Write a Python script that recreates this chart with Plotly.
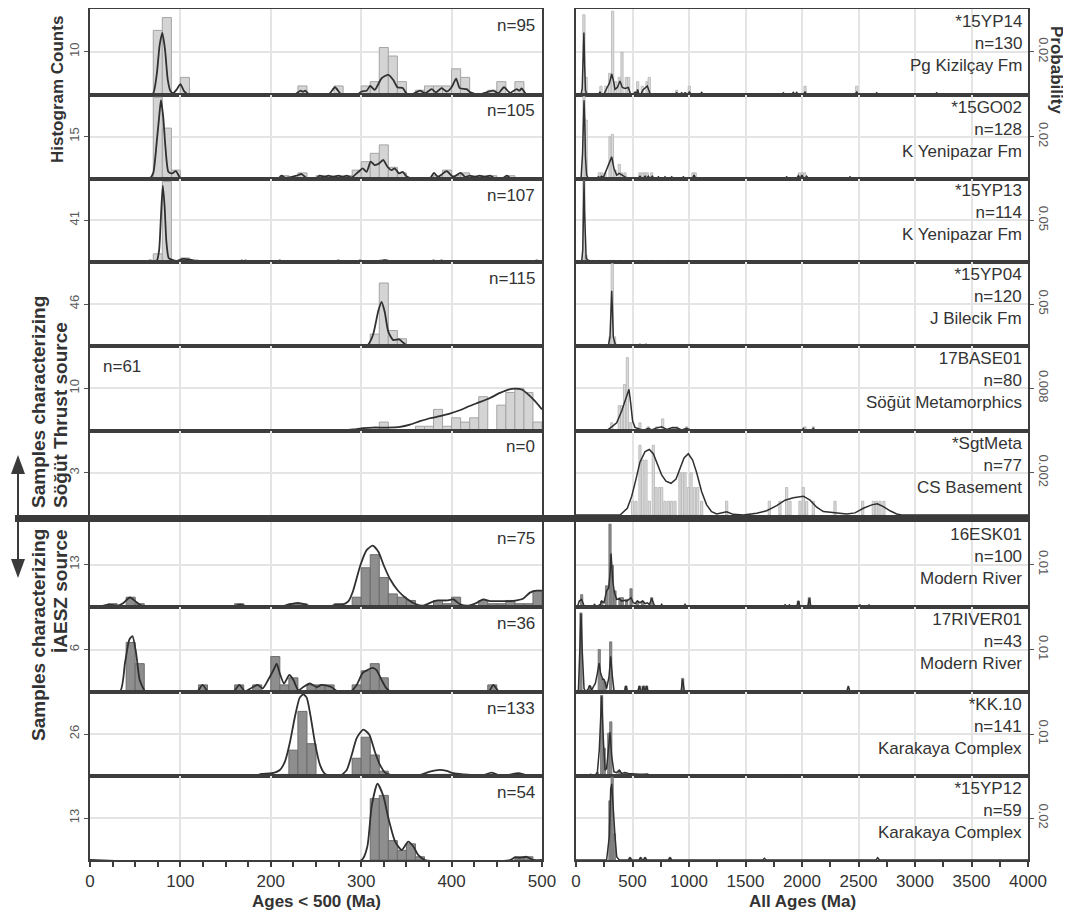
import plotly.graph_objects as go

# ------------------------------------------------------------------ data
L_tick = [10, 15, 41, 46, 10, 3, 13, 6, 26, 13]
R_tick = [0.02, 0.02, 0.05, 0.05, 0.008, 0.002, 0.01, 0.01, 0.01, 0.02]
L_n = ["n=95", "n=105", "n=107", "n=115", "n=61", "n=0", "n=75", "n=36", "n=133", "n=54"]
R_name = ["*15YP14", "*15GO02", "*15YP13", "*15YP04", "17BASE01", "*SgtMeta",
          "16ESK01", "17RIVER01", "*KK.10", "*15YP12"]
R_n = ["n=130", "n=128", "n=114", "n=120", "n=80", "n=77", "n=100", "n=43", "n=141", "n=59"]
R_unit = ["Pg Kizilçay Fm", "K Yenipazar Fm", "K Yenipazar Fm", "J Bilecik Fm",
          "Söğüt Metamorphics", "CS Basement", "Modern River", "Modern River",
          "Karakaya Complex", "Karakaya Complex"]

# left panels: histogram (10 Ma bins, lower edge) and KDE
L1_bin = [70, 80, 100, 230, 270, 300, 310, 320, 330, 340, 360, 370, 380, 390, 400, 410, 440, 450, 470]
L1_cnt = [15, 18, 4, 2, 2, 2, 3, 11, 9, 3, 1, 2, 2, 2, 6, 4, 1, 3, 3]
L1_kx = [0, 66, 70, 74, 77, 80, 83, 86, 89, 92, 96, 100, 104, 109, 226, 233, 235.5, 238, 243, 264, 271, 278,
         296, 300.5, 306, 310, 315, 322.6, 330, 335.5, 340, 346, 350, 356, 365, 370.6, 378, 382.7, 389, 394.6,
         400, 405, 409, 416.6, 421, 430, 446, 451.7, 458, 464.6, 472, 475, 477.5, 483, 500]
L1_ky = [0, 0, 0.3, 5, 11.5, 14.4, 10.5, 3.5, 0.8, 0.3, 1.2, 2.4, 0.8, 0, 0, 0.9, 0.6, 0.9, 0, 0, 1.7, 0,
         0, 0.7, 0.9, 2.0, 1.1, 3.8, 4.6, 3.4, 1.7, 1.5, 0.3, 0, 0.9, 0.3, 1.25, 0.5, 1.5, 0.7,
         1.7, 3.7, 1.5, 1.25, 0.5, 0, 0.9, 0.3, 1.7, 0.4, 1.25, 0.9, 1.4, 0, 0]

L2_bin = [70, 80, 90, 210, 230, 250, 260, 270, 280, 290, 300, 310, 320, 330, 340, 380, 390, 400, 410, 420, 430, 440, 460]
L2_cnt = [29, 18, 3, 1, 2, 1, 1, 1, 1, 3, 6, 9, 12, 4, 2, 1, 3, 1, 2, 1, 1, 1, 1]
L2_kx = [0, 66, 70, 74, 76.5, 78.5, 81, 83.5, 86.7, 90.3, 95, 99.6, 103, 208, 212, 216, 228.6, 234, 240, 250,
         254, 260, 263.6, 269, 274.7, 280, 284, 289.5, 297, 301.6, 306, 310.5, 315, 320, 324.5, 329, 333.7,
         337, 342, 346, 350, 356, 376, 380.5, 385, 394.5, 401.8, 410, 414.8, 420, 426, 431, 437, 442.5, 448,
         456, 461, 466, 500]
L2_ky = [0, 0, 2, 13.7, 22, 28, 22, 11, 2.4, 1.8, 2.6, 0.3, 0, 0, 1, 0.2, 1, 1.6, 0, 0,
         1, 0.6, 1, 0.6, 1, 0.6, 1, 0.4, 2.4, 3.6, 2.4, 6, 4.8, 5.4, 6.6, 4.2, 3,
         3.6, 1.8, 2.4, 0.8, 0, 0, 2, 0.6, 2.6, 0.6, 2, 0.6, 1, 0.6, 1, 0.6, 1, 0,
         0, 1, 0, 0]

L3_bin = [70, 80, 90, 100, 110, 170, 210, 270, 300, 320, 380, 390, 490]
L3_cnt = [8, 79, 1, 4, 2, 1, 1, 1, 1, 2, 1, 1, 1]
L3_kx = [0, 62, 66.4, 70, 74, 76.5, 78.5, 80.5, 82.5, 84.5, 87, 90.3, 96, 103, 110.6, 116, 122, 164, 168, 170,
         172, 176, 206, 210, 214, 270, 274.7, 279, 294, 298.7, 303, 318, 324.5, 328, 333, 376, 380, 384.5,
         389, 393, 490, 494, 498, 500]
L3_ky = [0, 0, 1.6, 0.8, 1.5, 12, 45, 75, 55, 20, 4, 2.3, 1, 3, 2.3, 1, 0, 0, 1.6, 0.6,
         1.6, 0, 0, 1.6, 0, 0, 1.6, 0, 0, 1.6, 0, 0, 1.6, 1.6, 0, 0, 1.6, 0.3,
         1.6, 0, 0, 1.6, 0, 0]

L4_bin = [310, 320, 330, 340]
L4_cnt = [13, 69, 17, 8]
L4_kx = [0, 306, 313, 319, 322.6, 326, 330, 335.5, 342, 346.6, 352, 500]
L4_ky = [0, 0, 12, 39, 48.4, 37.5, 15.6, 6.5, 7.3, 3.6, 0, 0]

L5_bin = [320, 360, 370, 380, 390, 400, 410, 420, 430, 450, 460, 470, 480, 490]
L5_cnt = [2, 1, 1, 5, 1, 3, 2, 3, 8, 6, 9, 10, 9, 2]
L5_kx = [0, 276, 291, 302, 313, 328, 343, 354, 365, 376, 387, 398, 409, 420, 431, 442.5, 453.5, 462.8,
         470, 477.5, 485, 492, 500]
L5_ky = [0, 0, 0.24, 0.55, 0.7, 0.7, 0.87, 1.4, 2.2, 2.9, 3.4, 4, 4.8, 5.8, 6.7, 7.7, 8.9, 9.7,
         9.9, 9.7, 8.5, 7, 5]

L6_bin = []
L6_cnt = []
L6_kx = []
L6_ky = []

L7_bin = [20, 40, 50, 160, 220, 230, 270, 290, 300, 310, 320, 330, 340, 350, 380, 390, 400, 430, 440, 450, 460, 470, 480, 490]
L7_cnt = [1, 3, 1, 1, 1, 1, 1, 3, 12, 16, 9, 4, 3, 2, 2, 1, 3, 2, 1, 1, 2, 1, 1, 5]
L7_kx = [0, 11, 20, 26, 31, 37, 44, 50, 57, 66, 155, 166, 177, 210, 219, 230, 240, 247, 262, 273, 280, 286,
         291, 299, 306, 312.7, 319, 325, 332, 341, 350, 359.5, 368.7, 378, 385, 394.5, 402, 409, 418.5,
         427.7, 435, 442.5, 453.5, 464.6, 472, 479, 486.7, 494, 500]
L7_ky = [0, 0.2, 0.7, 0.6, 0.4, 1.25, 2.9, 1.8, 0.4, 0, 0, 0.7, 0, 0, 0.7, 1.25, 0.6, 0, 0, 0.7, 0.8, 1.8,
         4.9, 12.7, 17.4, 18.75, 16.9, 12.7, 8.5, 4.9, 2.6, 1, 0.4, 1.5, 2, 2, 2.3, 0.9, 0.4,
         1.25, 2.3, 1.8, 1.8, 1.8, 2, 2.5, 4.4, 5, 5]

L8_bin = [40, 50, 120, 160, 180, 200, 210, 220, 240, 250, 260, 290, 300, 310, 320, 440]
L8_cnt = [7, 4, 1, 1, 1, 5, 1, 2, 1, 1, 1, 1, 3, 4, 2, 1]
L8_kx = [0, 33, 38.7, 43.5, 47, 51, 55, 61, 64.5, 118, 124.6, 131, 158.5, 165, 171.5, 179, 185.5, 191, 197,
         203, 206.5, 210, 214.6, 220.5, 225, 230.5, 236, 243, 250.7, 256, 262, 267, 274.7, 287.6, 295,
         301.6, 306.8, 312.7, 317, 322.6, 328, 333.7, 440.6, 446, 453, 500]
L8_ky = [0, 0, 4.1, 7.4, 7.9, 5.5, 1.7, 0.1, 0, 0, 1, 0, 0, 1, 0.1, 0.6, 1, 0.5, 1.7,
         3.1, 4, 2.6, 1.2, 2.4, 1.7, 0.24, 0.7, 1.2, 0.7, 1, 0.9, 0.7, 0, 0, 1,
         2.7, 3.1, 3.4, 3.1, 1.7, 0.5, 0, 0, 1, 0, 0]

L9_bin = [190, 210, 220, 230, 240, 290, 300, 310, 320, 380, 390, 470]
L9_cnt = [1, 1, 16, 40, 20, 11, 24, 13, 3, 1, 1, 1]
L9_kx = [0, 118, 131, 144, 180.7, 190, 201, 210, 215.7, 221, 226.8, 232, 236, 239.7, 244, 248.9, 254.4, 260,
         265.5, 276.5, 284, 289.5, 295, 302.4, 309, 315, 320.8, 326.4, 333.7, 346.6, 354, 365, 376, 387,
         394.6, 402, 413, 424, 435, 444, 451.7, 462.8, 473.7, 483, 494, 500]
L9_ky = [0, 0, 0.6, 0, 0, 1.25, 1.7, 3.75, 9, 20.4, 37, 48.5, 50.6, 48.5, 37, 20.4, 6.9, 1.25,
         0, 0, 3.75, 13, 23.5, 28.75, 25.6, 15.2, 6.9, 2.1, 0.6, 0.6, 0.2, 0.6, 2.7, 3.75,
         3.1, 1.7, 1, 0.6, 0.4, 2.1, 0.6, 0.6, 1.7, 0.6, 0, 0]

L10_bin = [310, 320, 330, 340, 350, 360, 470, 480]
L10_cnt = [19, 20, 6, 3, 5, 1, 1, 1]
L10_kx = [0, 300.5, 306.8, 311.6, 318, 324.5, 330, 337.5, 344.8, 352, 357.7, 363, 370.6, 464.6, 470, 475.7,
          483, 490.4, 500]
L10_ky = [0, 0, 4.2, 16.7, 23.6, 19.8, 13, 5.7, 3.1, 5.7, 4.2, 1.6, 0, 0, 0.8, 0.7, 1, 0, 0]

# right panels: histogram (age, probability), probability curve and isolated small peaks
R1_bar_age = [70, 90, 221, 265, 298, 324, 351, 383, 407, 445, 466, 546, 587, 628, 648, 891, 1003, 2027, 2484]
R1_bar_p = [0.0373, 0.008, 0.0039, 0.0039, 0.0099, 0.039, 0.006, 0.008, 0.0198, 0.008, 0.008, 0.006,
            0.0039, 0.006, 0.008, 0.002, 0.0039, 0.0039, 0.0039]
R1_pdp_x = [45, 55, 62, 70, 77, 84, 95, 200, 212, 224, 245, 257, 271, 295, 316, 330, 345, 366, 389, 410,
            434, 463, 484, 510, 522, 535, 546, 556, 575, 590, 611, 631, 655, 678]
R1_pdp_y = [0, 0.003, 0.015, 0.029, 0.013, 0.002, 0, 0, 0.0013, 0, 0, 0.0017, 0.0028, 0.0052, 0.0096,
            0.0068, 0.0024, 0.0033, 0.0063, 0.0033, 0.0028, 0.0033, 0, 0, 0.0013, 0, 0.0024, 0, 0,
            0.002, 0.0033, 0.004, 0.0005, 0]
R1_pk_age = [891, 935, 965, 1003, 1112, 1835, 1923, 1953, 2027, 2484, 2661, 3192]
R1_pk_p = [0.0008, 0.0008, 0.0008, 0.0011, 0.001, 0.0008, 0.001, 0.001, 0.0011, 0.0011, 0.0008, 0.0008]

R2_bar_age = [71, 90, 206, 227, 257, 301, 322, 345, 383, 404, 434, 566, 590, 611, 631, 670, 1035, 1055, 1976, 2000, 2024]
R2_bar_p = [0.039, 0.0278, 0.0027, 0.0027, 0.0027, 0.0199, 0.021, 0.004, 0.0067, 0.0027, 0.0027, 0.0027,
            0.0027, 0.0027, 0.0027, 0.0027, 0.0027, 0.0027, 0.0027, 0.0027, 0.0027]
R2_pdp_x = [45, 58, 65, 71, 77, 84, 94, 110, 185, 198, 212, 227, 242, 257, 286, 316, 336, 360, 383, 404, 434, 463]
R2_pdp_y = [0, 0.012, 0.03, 0.0373, 0.028, 0.01, 0.0016, 0, 0, 0.0008, 0.0003, 0.0011, 0.0005, 0.0024,
            0.0056, 0.0103, 0.0048, 0.0016, 0.0024, 0.0016, 0.0008, 0]
R2_pk_age = [566, 611, 640, 675, 729, 788, 847, 950, 1045, 1864, 1968, 2000, 2041, 2425]
R2_pk_p = [0.0011, 0.0011, 0.0011, 0.0011, 0.0008, 0.0008, 0.0008, 0.0008, 0.0016, 0.0008, 0.0013,
           0.0016, 0.0011, 0.0008]

R3_bar_age = [70, 90, 110]
R3_bar_p = [0.097, 0.0076, 0.003]
R3_pdp_x = [50, 60, 66, 71, 76, 82, 90, 100, 115]
R3_pdp_y = [0, 0.015, 0.06, 0.097, 0.06, 0.015, 0.004, 0.003, 0]
R3_pk_age = [153, 206, 257, 301, 336, 383, 566, 625, 670, 817, 994, 2572]
R3_pk_p = [0.0016] * 12

R4_bar_age = [301, 321, 341]
R4_bar_p = [0.011, 0.098, 0.011]
R4_pdp_x = [286, 301, 309, 316, 323, 330, 345, 366]
R4_pdp_y = [0, 0.011, 0.04, 0.0657, 0.04, 0.011, 0.003, 0]
R4_pk_age = [566, 619, 1032]
R4_pk_p = [0.002, 0.002, 0.0016]

R5_bar_age = [316, 383, 404, 430, 455, 480, 566, 640, 714, 767, 861, 891, 979, 2027, 2100]
R5_bar_p = [0.00145, 0.0047, 0.0047, 0.0087, 0.0138, 0.0015, 0.00145, 0.0007, 0.0007, 0.0022, 0.0007,
            0.0007, 0.0007, 0.0007, 0.0007]
R5_pdp_x = [271, 316, 360, 404, 434, 457, 469, 484, 501, 522, 566, 596, 640, 670, 714, 758, 802, 847,
            891, 935, 979, 1024]
R5_pdp_y = [0, 0.0007, 0.00145, 0.0037, 0.0056, 0.0071, 0.0078, 0.0052, 0.0018, 0.0006, 0.0002, 0,
            0.0004, 0.0001, 0.0005, 0.0007, 0.0002, 0.0005, 0.0005, 0.0001, 0.0004, 0]
R5_pk_age = [2012, 2100]
R5_pk_p = [0.0004, 0.0004]

R6_bar_age = [501, 531, 566, 590, 619, 649, 684, 708, 737, 758, 787, 817, 846, 876, 920, 944, 965, 994,
              1018, 1047, 1077, 1112, 1333, 1711, 1805, 1864, 1894, 1982, 2012, 2041, 2100, 2292, 2537,
              2631, 2660, 2690, 2725]
R6_bar_p = [0.00065, 0.00065, 0.0033, 0.0026, 0.0026, 0.00065, 0.0033, 0.0013, 0.0013, 0.0013, 0.00065,
            0.00065, 0.00065, 0.00065, 0.002, 0.002, 0.002, 0.0013, 0.002, 0.0013, 0.0013, 0.00065,
            0.00065, 0.00065, 0.00065, 0.0013, 0.00065, 0.00065, 0.0013, 0.00065, 0.00065, 0.00065,
            0.00065, 0.00065, 0.00065, 0.00065, 0.00065]
R6_pdp_x = [390, 454, 493, 531, 566, 611, 649, 684, 720, 758, 796, 841, 885, 920, 956, 994, 1032, 1068,
            1112, 1156, 1200, 1245, 1290, 1333, 1392, 1481, 1599, 1687, 1776, 1850, 1923, 2012, 2071,
            2130, 2189, 2248, 2322, 2395, 2469, 2543, 2617, 2667, 2720, 2779, 2838, 2882]
R6_pdp_y = [0, 0.00032, 0.00089, 0.0017, 0.0025, 0.003, 0.0031, 0.0029, 0.0024, 0.0019, 0.0016, 0.0015,
            0.0017, 0.0022, 0.0027, 0.0029, 0.0026, 0.002, 0.0011, 0.00048, 0.00016, 0.00005, 0.0001,
            0.00015, 0.00003, 0, 0.00008, 0.0002, 0.00044, 0.0007, 0.00082, 0.00089, 0.0007, 0.00037,
            0.00016, 0.00013, 0.0001, 0.00005, 0.0001, 0.00032, 0.00048, 0.00053, 0.0004, 0.0002,
            0.00005, 0]
R6_pk_age = []
R6_pk_p = []

R7_bar_age = [50, 227, 271, 301, 322, 345, 389, 410, 448, 487, 543, 590, 670, 1968, 2065]
R7_bar_p = [0.0029, 0.0014, 0.005, 0.0195, 0.0098, 0.0038, 0.0022, 0.0022, 0.0018, 0.0043, 0.0014,
            0.0014, 0.0022, 0.0014, 0.0022]
R7_pdp_x = [12, 29, 50, 71, 94, 150, 162, 180, 198, 215, 227, 248, 271, 289, 302, 310, 317, 326, 339, 360,
            383, 404, 428, 448, 469, 487, 507, 525, 543, 566, 590, 611, 631, 649, 670, 690, 710]
R7_pdp_y = [0, 0.0014, 0.0018, 0.0003, 0, 0, 0.0006, 0.0002, 0.0003, 0.0006, 0.0014, 0.001, 0.0038,
            0.0045, 0.008, 0.0126, 0.0085, 0.006, 0.0035, 0.0018, 0.0019, 0.0014, 0.0016, 0.0014,
            0.0018, 0.0022, 0.001, 0.0008, 0.0014, 0.001, 0.0014, 0.0008, 0.001, 0.0006, 0.002, 0.0006, 0]
R7_pk_age = [758, 965, 1850, 1888, 1968, 2065, 2513, 2593]
R7_pk_p = [0.0006, 0.0006, 0.0005, 0.0005, 0.0014, 0.002, 0.0005, 0.0005]

R8_bar_age = [44, 124, 206, 236, 257, 307, 442, 566, 601, 625, 944]
R8_bar_p = [0.0186, 0.0014, 0.01, 0.0032, 0.0024, 0.0118, 0.0014, 0.0014, 0.0014, 0.0014, 0.0032]
R8_pdp_x = [21, 35, 44, 56, 71, 88, 109, 121, 139, 153, 171, 189, 204, 218, 236, 251, 271, 292, 307,
            322, 336, 354]
R8_pdp_y = [0, 0.0108, 0.0184, 0.0092, 0.0008, 0, 0.0008, 0.0016, 0.0004, 0.0012, 0.002, 0.0044, 0.0068,
            0.0044, 0.003, 0.0028, 0.0008, 0.0036, 0.0084, 0.0036, 0.0004, 0]
R8_pk_age = [442, 560, 596, 625, 944, 2410]
R8_pk_p = [0.0014, 0.0014, 0.0014, 0.0014, 0.003, 0.0014]

R9_bar_age = [130, 189, 227, 250, 290, 308, 383, 434, 463]
R9_bar_p = [0.0004, 0.0008, 0.0192, 0.0066, 0.0102, 0.0129, 0.0013, 0.0006, 0.0006]
R9_pdp_x = [109, 130, 153, 168, 189, 206, 227, 242, 257, 271, 286, 301, 316, 336, 360, 383, 404, 434, 463,
            493, 522, 560, 596, 631, 670]
R9_pdp_y = [0, 0.0004, 0, 0.0002, 0.0008, 0.0062, 0.019, 0.0086, 0.0014, 0.0018, 0.0062, 0.0104, 0.0046,
            0.001, 0.0008, 0.0014, 0.0006, 0.0008, 0.0006, 0.0005, 0.0005, 0.0004, 0.0004, 0.0005, 0]
R9_pk_age = [965, 1038, 1888]
R9_pk_p = [0.0003, 0.0003, 0.0003]

R10_bar_age = [300, 320, 340, 478, 572, 611, 832]
R10_bar_p = [0.0282, 0.0395, 0.0124, 0.0011, 0.0011, 0.0011, 0.0011]
R10_pdp_x = [271, 295, 307, 316, 330, 345, 360, 383]
R10_pdp_y = [0, 0.0113, 0.0338, 0.0363, 0.0226, 0.0113, 0.0016, 0]
R10_pk_age = [478, 572, 611, 832, 1667, 2670]
R10_pk_p = [0.0011, 0.0011, 0.0011, 0.0011, 0.0008, 0.0011]

L_bins = [L1_bin, L2_bin, L3_bin, L4_bin, L5_bin, L6_bin, L7_bin, L8_bin, L9_bin, L10_bin]
L_cnts = [L1_cnt, L2_cnt, L3_cnt, L4_cnt, L5_cnt, L6_cnt, L7_cnt, L8_cnt, L9_cnt, L10_cnt]
L_kxs = [L1_kx, L2_kx, L3_kx, L4_kx, L5_kx, L6_kx, L7_kx, L8_kx, L9_kx, L10_kx]
L_kys = [L1_ky, L2_ky, L3_ky, L4_ky, L5_ky, L6_ky, L7_ky, L8_ky, L9_ky, L10_ky]
R_bar_ages = [R1_bar_age, R2_bar_age, R3_bar_age, R4_bar_age, R5_bar_age, R6_bar_age, R7_bar_age,
              R8_bar_age, R9_bar_age, R10_bar_age]
R_bar_ps = [R1_bar_p, R2_bar_p, R3_bar_p, R4_bar_p, R5_bar_p, R6_bar_p, R7_bar_p, R8_bar_p, R9_bar_p, R10_bar_p]
R_pdp_xs = [R1_pdp_x, R2_pdp_x, R3_pdp_x, R4_pdp_x, R5_pdp_x, R6_pdp_x, R7_pdp_x, R8_pdp_x, R9_pdp_x, R10_pdp_x]
R_pdp_ys = [R1_pdp_y, R2_pdp_y, R3_pdp_y, R4_pdp_y, R5_pdp_y, R6_pdp_y, R7_pdp_y, R8_pdp_y, R9_pdp_y, R10_pdp_y]
R_pk_ages = [R1_pk_age, R2_pk_age, R3_pk_age, R4_pk_age, R5_pk_age, R6_pk_age, R7_pk_age, R8_pk_age,
             R9_pk_age, R10_pk_age]
R_pk_ps = [R1_pk_p, R2_pk_p, R3_pk_p, R4_pk_p, R5_pk_p, R6_pk_p, R7_pk_p, R8_pk_p, R9_pk_p, R10_pk_p]

# ------------------------------------------------------------------ layout geometry (window pixels)
PAGE_OFF = 8                      # default page margin around the plot div
W, H = 1071, 915
LEFT_X = (90, 542)
RIGHT_X = (576, 1028)
P_TOP = [9, 94.5, 178.5, 262, 346, 430.5, 522, 607, 692, 776]
P_BOT = [94.5, 178.5, 262, 346, 430.5, 515, 607, 692, 776, 860]

FONT = "Liberation Sans, Arial, Helvetica, sans-serif"
TXT = "#333333"
FRAME = "#3d3d3d"
GRID = "#e4e4e4"


def fx(p):
    return (p - PAGE_OFF) / W


def fy(p):
    return 1 - (p - PAGE_OFF) / H


def merge_curve(xs, ys, pk_a, pk_p, hw=15, xmax=4000):
    pts = list(zip(xs, ys))
    for a, h in zip(pk_a, pk_p):
        pts += [(a - hw, 0), (a, h), (a + hw, 0)]
    pts += [(0, 0), (xmax, 0)]
    pts.sort()
    return [p[0] for p in pts], [p[1] for p in pts]


fig = go.Figure()
layout = dict(
    width=W, height=H, margin=dict(l=0, r=0, t=0, b=0, autoexpand=False),
    paper_bgcolor="white", plot_bgcolor="white", showlegend=False,
    font=dict(family=FONT, color=TXT, size=15), barmode="overlay",
)

annotations = []
shapes = []

for col in range(2):
    for i in range(10):
        k = col * 10 + i + 1
        xa = "x" if k == 1 else f"x{k}"
        ya = "y" if k == 1 else f"y{k}"
        dark = i >= 6
        if col == 0:
            bins, cnts = L_bins[i], L_cnts[i]
            if bins:
                fig.add_trace(go.Bar(
                    x=[b + 5 for b in bins], y=cnts, width=10, xaxis=xa, yaxis=ya,
                    marker=dict(color="#8e8e8e" if dark else "#d4d4d4",
                                line=dict(color="#6c6c6c" if dark else "#a4a4a4", width=1)),
                    hoverinfo="skip"))
            if L_kxs[i]:
                fig.add_trace(go.Scatter(
                    x=L_kxs[i], y=L_kys[i], mode="lines", xaxis=xa, yaxis=ya,
                    line=dict(color="#303030", width=1.8, shape="spline", smoothing=0.6),
                    hoverinfo="skip"))
            else:
                # empty sample: invisible placeholder so that the panel frame is drawn
                fig.add_trace(go.Scatter(x=[0], y=[0], mode="markers", xaxis=xa, yaxis=ya,
                                         marker=dict(opacity=0), hoverinfo="skip"))
            xr, dom, tick = [0, 500], LEFT_X, L_tick[i]
        else:
            fig.add_trace(go.Bar(
                x=R_bar_ages[i], y=R_bar_ps[i], width=20, xaxis=xa, yaxis=ya,
                marker=dict(color="#8a8a8a" if dark else "#dadada",
                            line=dict(color="#707070" if dark else "#b4b4b4", width=0.8)),
                hoverinfo="skip"))
            cx, cy = merge_curve(R_pdp_xs[i], R_pdp_ys[i], R_pk_ages[i], R_pk_ps[i])
            fig.add_trace(go.Scatter(
                x=cx, y=cy, mode="lines", xaxis=xa, yaxis=ya,
                line=dict(color="#303030", width=1.5), hoverinfo="skip"))
            xr, dom, tick = [0, 4000], RIGHT_X, R_tick[i]

        bottom = (i == 9)
        xkey = "xaxis" if k == 1 else f"xaxis{k}"
        ykey = "yaxis" if k == 1 else f"yaxis{k}"
        xaxis = dict(
            domain=[fx(dom[0]), fx(dom[1])], range=xr, anchor=ya, automargin=False,
            showgrid=True, gridcolor=GRID, gridwidth=1.5,
            tick0=0, dtick=100 if col == 0 else 500,
            zeroline=False, showline=True, mirror=True, linecolor=FRAME, linewidth=2,
            showticklabels=bottom, ticks="outside" if bottom else "",
            ticklen=5, tickcolor=FRAME, tickwidth=1.5,
            tickfont=dict(size=17, color=TXT, family=FONT), fixedrange=True,
        )
        if bottom:
            xaxis["minor"] = dict(dtick=25 if col == 0 else 250, ticks="outside", ticklen=5,
                                  tickcolor=FRAME, tickwidth=1.5, showgrid=False)
        layout[xkey] = xaxis
        layout[ykey] = dict(
            domain=[fy(P_BOT[i]), fy(P_TOP[i])], range=[0, 2 * tick], anchor=xa, automargin=False,
            side="left" if col == 0 else "right",
            tickvals=[tick], ticktext=[str(tick)], tickangle=-90 if col == 0 else 90,
            ticks="outside", ticklen=4, tickcolor="#555555", tickwidth=1,
            tickfont=dict(size=13, color="#5a5a5a", family=FONT),
            showgrid=True, gridcolor=GRID, gridwidth=1.5, zeroline=False,
            showline=True, mirror=True, linecolor=FRAME, linewidth=2, fixedrange=True,
        )

        # panel texts
        if col == 0:
            if i == 4:
                annotations.append(dict(x=fx(101), y=fy(P_TOP[i] + 9), xref="paper", yref="paper",
                                        xanchor="left", yanchor="top", text=L_n[i], showarrow=False,
                                        font=dict(size=17, color=TXT)))
            else:
                annotations.append(dict(x=fx(537), y=fy(P_TOP[i] + 5), xref="paper", yref="paper",
                                        xanchor="right", yanchor="top", text=L_n[i], showarrow=False,
                                        font=dict(size=17, color=TXT)))
        else:
            annotations.append(dict(x=fx(1024), y=fy(P_TOP[i] + 1), xref="paper", yref="paper",
                                    xanchor="right", yanchor="top", align="right",
                                    text=f"{R_name[i]}<br>{R_n[i]}<br>{R_unit[i]}", showarrow=False,
                                    font=dict(size=17, color=TXT)))

# separator bar
shapes.append(dict(type="rect", xref="paper", yref="paper", x0=fx(15), x1=fx(1030),
                   y0=fy(522), y1=fy(515), fillcolor="#3a3a3a", line=dict(width=0), layer="above"))
# double-headed arrow
shapes.append(dict(type="line", xref="paper", yref="paper", x0=fx(18), x1=fx(18), y0=fy(470), y1=fy(563),
                   line=dict(color="#3a3a3a", width=2)))
shapes.append(dict(type="path", xref="paper", yref="paper",
                   path=f"M {fx(18)} {fy(455)} L {fx(11)} {fy(474)} L {fx(25)} {fy(474)} Z",
                   fillcolor="#3a3a3a", line=dict(width=0)))
shapes.append(dict(type="path", xref="paper", yref="paper",
                   path=f"M {fx(18)} {fy(578)} L {fx(11)} {fy(559)} L {fx(25)} {fy(559)} Z",
                   fillcolor="#3a3a3a", line=dict(width=0)))


def note(x, y, text, angle=0, xanchor="center", yanchor="middle", size=17):
    return dict(x=fx(x), y=fy(y), xref="paper", yref="paper", text=text, textangle=angle,
                showarrow=False, font=dict(size=size, color=TXT, family=FONT),
                xanchor=xanchor, yanchor=yanchor)


annotations += [
    note(57, 90, "<b>Histogram Counts</b>", -90),
    note(38, 510, "<b>Samples characterizing</b>", -90, yanchor="bottom", size=19),
    note(60, 510, "<b>Söğüt Thrust source</b>", -90, yanchor="bottom", size=19),
    note(38, 527, "<b>Samples characterizing</b>", -90, yanchor="top", size=19),
    note(60, 527, "<b>İAESZ source</b>", -90, yanchor="top", size=19),
    note(1057, 70, "<b>Probability</b>", 90),
    note(316, 901, "<b>Ages < 500 (Ma)</b>"),
    note(802, 901, "<b>All Ages (Ma)</b>"),
]

layout["annotations"] = annotations
layout["shapes"] = shapes
fig.update_layout(**layout)
fig.write_html("out.html")
